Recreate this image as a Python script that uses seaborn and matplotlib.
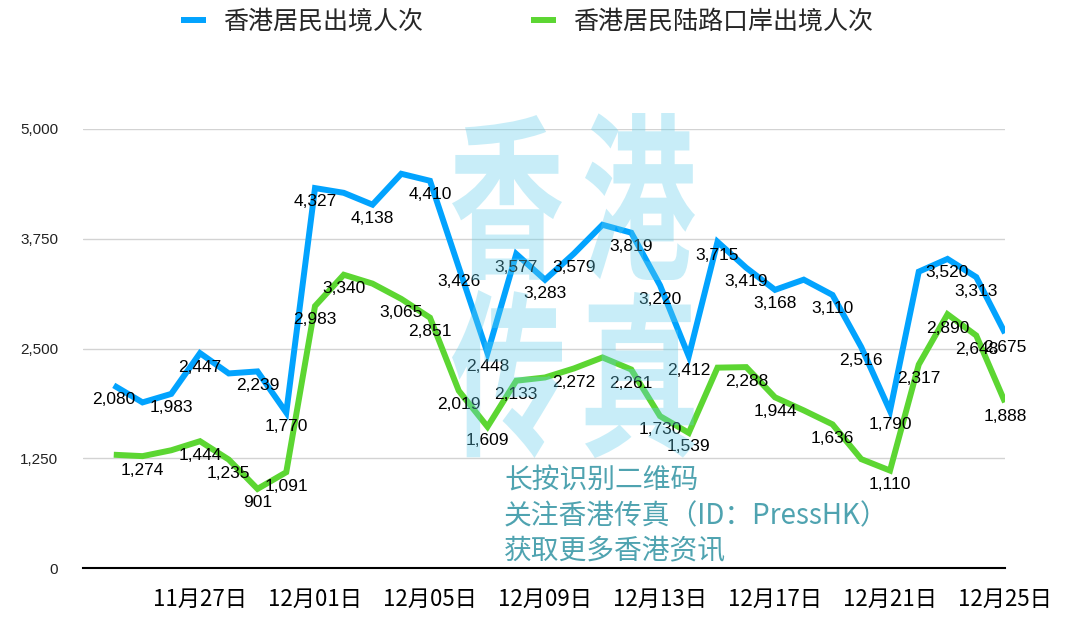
import numpy as np
import pandas as pd
import seaborn as sns
import matplotlib.pyplot as plt
from matplotlib.textpath import TextPath
from matplotlib.font_manager import FontProperties
from matplotlib.patches import PathPatch
from matplotlib.transforms import Affine2D

# 每日数据 11/24 - 12/25
dates = pd.date_range('2022-11-24', '2022-12-25')
blue = [2080, 1886, 1983, 2447, 2216, 2239, 1770, 4327, 4273, 4138, 4490, 4410,
        3426, 2448, 3577, 3283, 3579, 3909, 3819, 3220, 2412, 3715, 3419, 3168,
        3284, 3110, 2516, 1790, 3375, 3520, 3313, 2675]
green = [1290, 1274, 1341, 1444, 1235, 901, 1091, 2983, 3340, 3239, 3065, 2851,
         2019, 1609, 2133, 2170, 2272, 2398, 2261, 1730, 1539, 2282, 2288, 1944,
         1795, 1636, 1240, 1110, 2317, 2890, 2648, 1888]
# 图上标了数值的点
blue_lab = [0, 2, 3, 5, 6, 7, 9, 11, 12, 13, 14, 15, 16, 18, 19, 20, 21, 22, 23,
            25, 26, 27, 29, 30, 31]
green_lab = [1, 3, 4, 5, 6, 7, 8, 10, 11, 12, 13, 14, 16, 18, 19, 20, 22, 23, 25,
             27, 28, 29, 30, 31]
names = ['香港居民出境人次', '香港居民陆路口岸出境人次']
yticks = [0, 1250, 2500, 3750, 5000]
xtick_idx = [3, 7, 11, 15, 19, 23, 27, 31]
promo = ['长按识别二维码', '关注香港传真（ID：PressHK）', '获取更多香港资讯']

n = len(dates)
df = pd.DataFrame({
    'idx': list(range(n)) * 2,
    'value': blue + green,
    'series': [names[0]] * n + [names[1]] * n,
})

sns.set_style('white')
plt.rcParams['font.family'] = ['Noto Sans CJK SC', 'DejaVu Sans']

W, H = 1080, 628
fig = plt.figure(figsize=(W / 100, H / 100), dpi=100)
ax = fig.add_axes([83 / W, 1 - 568 / H, 922 / W, 439 / H])

cols = {names[0]: '#02A3FE', names[1]: '#5CD632'}
sns.lineplot(data=df, x='idx', y='value', hue='series', palette=cols,
             linewidth=4.3, ax=ax, solid_joinstyle='miter', solid_capstyle='butt')

# 数据标签
for vals, lab in [(blue, blue_lab), (green, green_lab)]:
    for i in lab:
        ax.annotate(f'{vals[i]:,}', (i, vals[i]), xytext=(0, -10),
                    textcoords='offset points', ha='center', va='center',
                    fontsize=12.5, family='Liberation Sans', color='black', zorder=5)

ax.set_xlim(-1.07, 31)
ax.set_ylim(0, 5000)
ax.set_yticks(yticks)
ax.set_yticklabels([f'{v:,}' for v in yticks], family='Liberation Sans',
                   fontsize=11, color='#222222')
ax.set_xticks(xtick_idx)
ax.set_xticklabels([f'{dates[i].month}月{dates[i].day:02d}日' for i in xtick_idx],
                   fontsize=16, color='black')
ax.tick_params(axis='y', length=0, pad=18)
ax.tick_params(axis='x', length=0, pad=14)
ax.set_xlabel('')
ax.set_ylabel('')
ax.yaxis.grid(True, color='#D3D3D3', lw=1)
ax.set_axisbelow(True)
for s in ['top', 'right', 'left']:
    ax.spines[s].set_visible(False)
ax.spines['bottom'].set_color('black')
ax.spines['bottom'].set_linewidth(1.5)

handles, labels = ax.get_legend_handles_labels()
ax.legend(handles, labels, loc='center', bbox_to_anchor=(527 / W, 1 - 22 / H),
          bbox_transform=fig.transFigure, ncol=2, frameon=False, fontsize=18,
          handlelength=1.0, handletextpad=0.7, columnspacing=4.3)

# 水印
wm_font = FontProperties(family='Noto Sans CJK SC', weight='bold')
def watermark(ch, x0, y0, x1, y1):
    tp = TextPath((0, 0), ch, size=1, prop=wm_font)
    ext = tp.get_extents()
    sx = (x1 - x0) / W / ext.width
    sy = (y1 - y0) / H / ext.height
    tr = (Affine2D().translate(-ext.x0, -ext.y0).scale(sx, sy)
          .translate(x0 / W, 1 - y1 / H) + fig.transFigure)
    fig.add_artist(PathPatch(tp, transform=tr, fc='#62CEEB', ec='none',
                             alpha=0.35, zorder=10))

watermark('香', 452, 115, 562, 280)
watermark('港', 585, 113, 695, 280)
watermark('传', 452, 290, 562, 458)
watermark('真', 585, 292, 695, 458)

for k, t in enumerate(promo):
    fig.text(504 / W, 1 - (481 + k * 35) / H, t, ha='left', va='center',
             fontsize=20, color='#4FA3B0', zorder=11)

fig.savefig('out.png', dpi=100)
